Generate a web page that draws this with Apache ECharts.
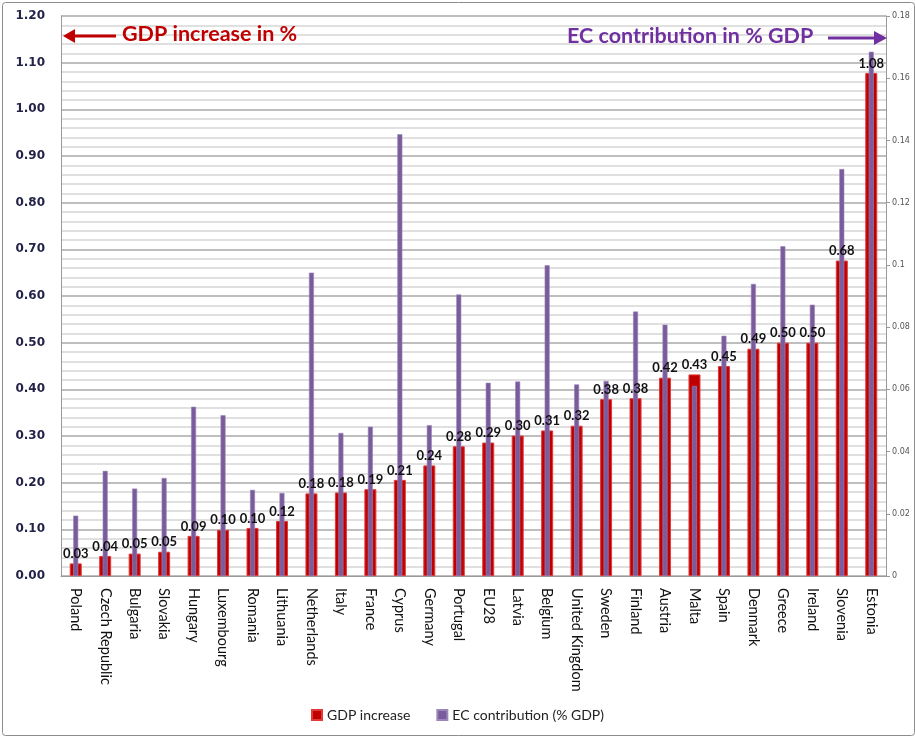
<!DOCTYPE html>
<html>
<head>
<meta charset="utf-8">
<script src="https://cdn.jsdelivr.net/npm/echarts@6/dist/echarts.min.js"></script>
<style>
html,body{margin:0;padding:0;background:#fff;}
#chart{width:915px;height:736px;}
</style>
</head>
<body>
<div id="chart"></div>
<script>
var categories = ["Poland","Czech Republic","Bulgaria","Slovakia","Hungary","Luxembourg","Romania","Lithuania","Netherlands","Italy","France","Cyprus","Germany","Portugal","EU28","Latvia","Belgium","United Kingdom","Sweden","Finland","Austria","Malta","Spain","Denmark","Greece","Ireland","Slovenia","Estonia"];
var gdpIncrease = [0.027,0.043,0.048,0.052,0.086,0.099,0.103,0.118,0.177,0.179,0.186,0.206,0.237,0.278,0.286,0.301,0.312,0.322,0.379,0.381,0.425,0.432,0.450,0.487,0.500,0.500,0.676,1.078];
var ecContribution = [0.0194,0.0338,0.0281,0.0315,0.0544,0.0517,0.0277,0.0267,0.0975,0.0460,0.0480,0.1420,0.0485,0.0905,0.0621,0.0625,0.0999,0.0616,0.0627,0.0850,0.0808,0.0611,0.0772,0.0939,0.1060,0.0872,0.1308,0.1685];
var leftTicks = {min:0, max:1.2, interval:0.1};
var rightTicks = {min:0, max:0.18, interval:0.02};

var chart = echarts.init(document.getElementById('chart'), null, {renderer:'canvas'});
var RED = '#C00000', PURPLE = '#7A5C9C';
var gridLeft = 61, gridTop = 16, gridRight = 29, gridBottom = 160;
var option = {
  backgroundColor:'#ffffff',
  animation:false,
  grid:{left:gridLeft, top:gridTop, right:gridRight, bottom:gridBottom, containLabel:false},
  legend:{
    bottom:9, left:'center',
    itemWidth:10, itemHeight:10, itemGap:26,
    icon:'rect',
    textStyle:{fontFamily:'Lato', fontSize:14, color:'#222'},
    data:['GDP increase','EC contribution (% GDP)']
  },
  xAxis:[{
    type:'category', data:categories,
    axisLine:{show:true, lineStyle:{color:'#999', width:1}},
    axisTick:{show:false},
    axisLabel:{rotate:-90, margin:12, interval:0, fontFamily:'Lato', fontSize:14.5, color:'#111'}
  },{
    type:'category', data:categories, show:false
  }],
  yAxis:[{
    type:'value', position:'left', min:leftTicks.min, max:leftTicks.max, interval:leftTicks.interval,
    axisLine:{show:true, lineStyle:{color:'#999'}},
    axisTick:{show:false},
    axisLabel:{margin:16, fontFamily:'DejaVu Sans', fontWeight:'bold', fontSize:12, color:'#232349',
      formatter:function(v){return v.toFixed(2);}},
    splitLine:{show:true, lineStyle:{color:'#a8a8a8', width:1.5}},
    minorTick:{show:false, splitNumber:5},
    minorSplitLine:{show:true, lineStyle:{color:'#d6d6d6', width:1.5}}
  },{
    type:'value', position:'right', min:rightTicks.min, max:rightTicks.max, interval:rightTicks.interval,
    axisLine:{show:true, lineStyle:{color:'#999'}},
    axisTick:{show:true, length:4, lineStyle:{color:'#999'}},
    axisLabel:{margin:6, fontFamily:'DejaVu Sans', fontSize:8, color:'#555',
      formatter:function(v){return String(parseFloat(v.toFixed(2)));}},
    splitLine:{show:false}
  }],
  series:[{
    name:'GDP increase', type:'bar', xAxisIndex:0, yAxisIndex:0,
    data:gdpIncrease, barWidth:12, barGap:'-100%', z:2,
    itemStyle:{color:RED, borderColor:'#e03a3a', borderWidth:1}
  },{
    name:'EC contribution (% GDP)', type:'bar', xAxisIndex:1, yAxisIndex:1,
    data:ecContribution, barWidth:5, z:3,
    itemStyle:{color:PURPLE, borderColor:'#9a86b8', borderWidth:0.6}
  },{
    name:'labels', type:'bar', xAxisIndex:0, yAxisIndex:0,
    data:gdpIncrease, barWidth:12, barGap:'-100%', z:4, silent:true,
    itemStyle:{color:'rgba(0,0,0,0)'},
    label:{show:true, position:'top', distance:3, fontFamily:'Lato', fontWeight:'bold', fontSize:13, color:'#111',
      formatter:function(p){return p.value.toFixed(2);}}
  }],
  graphic:[
    {type:'rect', left:0, top:0, shape:{x:1, y:1, width:912, height:733, r:3}, style:{fill:'none', stroke:'#8c8c8c', lineWidth:1}, silent:true, z:100},
    {type:'line', shape:{x1:70, y1:36, x2:116, y2:36}, style:{stroke:RED, lineWidth:3}, z:100},
    {type:'polygon', shape:{points:[[63,36],[75,29],[75,43]]}, style:{fill:RED}, z:100},
    {type:'text', left:122, top:23, style:{text:'GDP increase in %', fontFamily:'Lato', fontWeight:'bold', fontSize:21.5, fill:RED}, z:100},
    {type:'text', left:567, top:25, style:{text:'EC contribution in % GDP', fontFamily:'Lato', fontWeight:'bold', fontSize:21.5, fill:'#7030A0'}, z:100},
    {type:'line', shape:{x1:828, y1:38, x2:876, y2:38}, style:{stroke:'#7030A0', lineWidth:3}, z:100},
    {type:'polygon', shape:{points:[[887,38],[874,31],[874,45]]}, style:{fill:'#7030A0'}, z:100}
  ]
};
chart.setOption(option);
</script>
</body>
</html>
